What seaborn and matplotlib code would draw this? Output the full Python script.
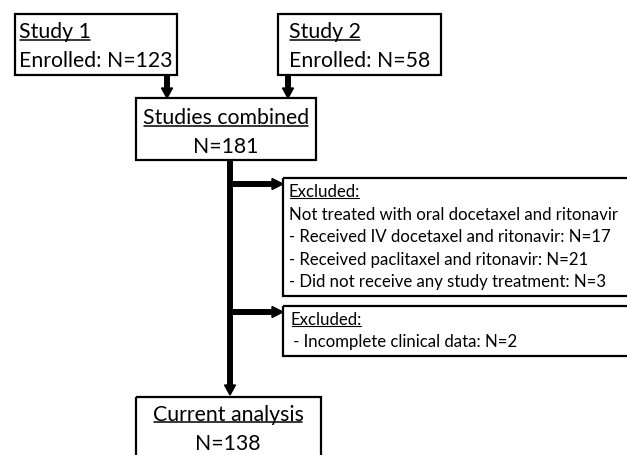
import matplotlib.pyplot as plt
import seaborn as sns
from matplotlib.patches import Rectangle, Polygon

sns.set_style("white")
plt.rcParams['font.family'] = ['Lato', 'DejaVu Sans']

# Box texts (title line is underlined)
study1_lines = ['Study 1', 'Enrolled: N=123']
study2_lines = ['Study 2', 'Enrolled: N=58']
combined_lines = ['Studies combined', 'N=181']
excluded1_lines = ['Excluded:',
                   'Not treated with oral docetaxel and ritonavir',
                   '- Received IV docetaxel and ritonavir: N=17',
                   '- Received paclitaxel and ritonavir: N=21',
                   '- Did not receive any study treatment: N=3']
excluded2_lines = ['Excluded:', ' - Incomplete clinical data: N=2']
final_lines = ['Current analysis', 'N=138']

fig = plt.figure(figsize=(6.27, 4.56), dpi=100)
ax = fig.add_axes([0, 0, 1, 1])
ax.set_xlim(0, 627)
ax.set_ylim(456, 0)
ax.axis('off')
fig.canvas.draw()
renderer = fig.canvas.get_renderer()


def box(x0, y0, x1, y1):
    ax.add_patch(Rectangle((x0, y0), x1 - x0, y1 - y0, fill=False,
                           edgecolor='black', lw=1.6))


def put_text(x, y, s, size, ha='left', underline=False, gap=2.5):
    # y is the baseline in pixel coordinates
    t = ax.text(x, y, s, fontsize=size, ha=ha, va='baseline', color='black')
    if underline:
        bb = t.get_window_extent(renderer).transformed(ax.transData.inverted())
        x0, x1 = sorted([bb.x0, bb.x1])
        ax.plot([x0 + 1, x1 - 1], [y + gap, y + gap], color='black',
                lw=1.1 if size > 14 else 0.8)
    return t


def shaft(x0, y0, x1, y1):
    ax.plot([x0, x1], [y0, y1], color='black', lw=4.3, solid_capstyle='butt')


def head_down(x, ytip):
    ax.add_patch(Polygon([(x - 5.5, ytip - 10), (x + 5.5, ytip - 10), (x, ytip)],
                         closed=True, color='black'))


def head_right(xtip, y):
    ax.add_patch(Polygon([(xtip - 11, y - 5.5), (xtip - 11, y + 5.5), (xtip, y)],
                         closed=True, color='black'))


big = 15.3
small = 12.1

# Study boxes
box(15, 15, 177, 76)
put_text(19, 38, study1_lines[0], big, underline=True)
put_text(19, 67, study1_lines[1], big)
box(278, 15, 441, 76)
put_text(289, 38, study2_lines[0], big, underline=True)
put_text(289, 67, study2_lines[1], big)

shaft(167, 76, 167, 90)
head_down(167, 99)
shaft(288, 76, 288, 90)
head_down(288, 99)

# Combined box
box(136, 99, 316, 161)
put_text(226, 124, combined_lines[0], big, ha='center', underline=True)
put_text(226, 153, combined_lines[1], big, ha='center')

# Main vertical line
shaft(230, 161, 230, 387)
head_down(230, 396)

# Exclusion branches
shaft(230, 185, 273, 185)
head_right(283, 185)
box(283, 179, 660, 297)
put_text(289, 197, excluded1_lines[0], small, underline=True, gap=1.8)
for i, s in enumerate(excluded1_lines[1:]):
    put_text(289, 220 + i * 22.3, s, small)

shaft(230, 313, 273, 313)
head_right(283, 313)
box(283, 307, 660, 357)
put_text(291, 325, excluded2_lines[0], small, underline=True, gap=1.8)
put_text(289, 347, excluded2_lines[1], small)

# Final box
box(136, 398, 321, 480)
put_text(228, 421, final_lines[0], big, ha='center', underline=True)
put_text(228, 450, final_lines[1], big, ha='center')

fig.savefig('out.png', dpi=100)
